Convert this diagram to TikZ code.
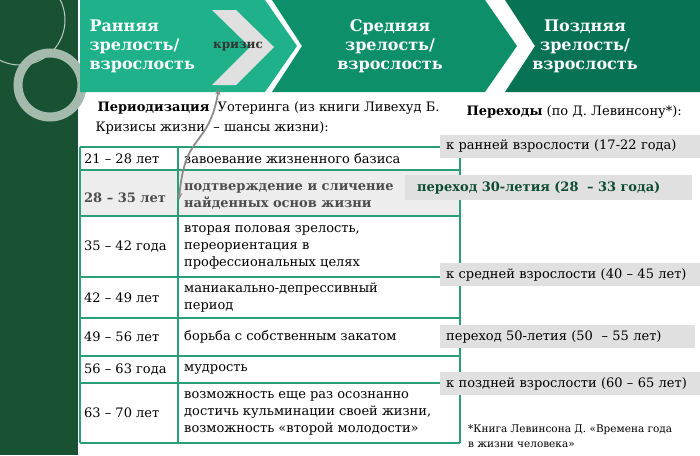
\documentclass[tikz,border=0pt]{standalone}
\usepackage{fontspec}
\setmainfont{DejaVu Serif}
\usetikzlibrary{arrows.meta,positioning}
\definecolor{MarbleClr}{rgb}{0.10,0.32,0.20}
\definecolor{ChevAClr}{rgb}{0.12,0.70,0.54}
\definecolor{ChevBClr}{rgb}{0.05,0.56,0.41}
\definecolor{ChevCClr}{rgb}{0.03,0.45,0.33}
\definecolor{GridClr}{rgb}{0.16,0.62,0.47}
\definecolor{BoxClr}{rgb}{0.88,0.88,0.88}
\definecolor{DarkGreen}{rgb}{0.05,0.30,0.20}
\tikzset{
  cell/.style={anchor=west,font=\fontsize{13}{17}\selectfont,align=left,inner sep=0pt},
  stage/.style={text=white,font=\bfseries\fontsize{16}{19}\selectfont,align=left},
  trans/.style={fill=BoxClr,anchor=west,minimum height=23pt,inner xsep=6pt,align=left,font=\fontsize{13}{15}\selectfont},
}
\begin{document}
\begin{tikzpicture}[x=1pt,y=-1pt]
\useasboundingbox (0,0) rectangle (700,455);
\fill[MarbleClr] (0,0) rectangle (78,455);
\draw[white!70!MarbleClr,line width=1pt] (20,20) circle (45);
\draw[white!60!MarbleClr,line width=9pt] (50,85) circle (32);

% chevrons
\fill[ChevCClr] (505,0) -- (700,0) -- (700,92) -- (505,92) -- (535,46) -- cycle;
\fill[ChevBClr] (272,0) -- (485,0) -- (517,46) -- (485,92) -- (272,92) -- (302,46) -- cycle;
\fill[ChevAClr] (80,0) -- (265,0) -- (297,46) -- (265,92) -- (80,92) -- cycle;
\fill[BoxClr] (212,10) -- (236,10) -- (274,47) -- (236,85) -- (212,85) -- (250,47) -- cycle;
\node[stage,anchor=west] (early) at (86,46) {Ранняя\\зрелость/\\взрослость};
\node[font=\bfseries\fontsize{12}{14}\selectfont,text=black!80] (crisis) at (238,47) {кризис};
\node[stage,align=center] (middle) at (390,46) {Средняя\\зрелость/\\взрослость};
\node[stage,align=center] (late) at (585,46) {Поздняя\\зрелость/\\взрослость};

% heading
\node[anchor=west,font=\fontsize{13}{15}\selectfont] (head) at (94,108) {\textbf{Периодизация}\ \ Уотеринга (из книги Ливехуд Б.};
\node[anchor=west,font=\fontsize{13}{15}\selectfont] (head2) at (92,128) {Кризисы жизни\ \ – шансы жизни):};
\node[anchor=west,font=\fontsize{13}{15}\selectfont] (trhead) at (463,112) {\textbf{Переходы} (по Д. Левинсону*):};

% table
\fill[black!7] (80,170) rectangle (460,216);
\foreach \y in {147,170,216,277,318,356,383,443}
  \draw[GridClr,line width=1.6pt] (80,\y) -- (460,\y);
\foreach \x in {80,178,460}
  \draw[GridClr,line width=1.6pt] (\x,147) -- (\x,443);

\foreach \y/\age/\txt in {
  158.5/21 – 28 лет/завоевание жизненного базиса,
  247/35 – 42 года/{вторая половая зрелость,\\переориентация в\\профессиональных целях},
  297.5/42 – 49 лет/{маниакально-депрессивный\\период},
  337/49 – 56 лет/борьба с собственным закатом,
  369.5/56 – 63 года/мудрость,
  413/63 – 70 лет/{возможность еще раз осознанно\\достичь кульминации своей жизни,\\возможность «второй молодости»}}
{
  \node[cell] at (84,\y) {\age};
  \node[cell] at (184,\y) {\txt};
}
\node[cell,font=\bfseries\fontsize{13}{17}\selectfont,text=black!70] (age2) at (84,198) {28 – 35 лет};
\node[cell,font=\bfseries\fontsize{13}{17}\selectfont,text=black!70] (txt2) at (184,196) {подтверждение и сличение\\найденных основ жизни};

% transitions
\node[trans,text width=248pt] (t1) at (440,146) {к ранней взрослости (17-22 года)};
\node[trans,text width=275pt,font=\bfseries\fontsize{13}{15}\selectfont,text=DarkGreen,minimum height=25pt] (t2) at (405,187.5) {\hspace*{6pt}переход 30-летия (28 \ – 33 года)};
\node[trans,text width=248pt] (t3) at (440,274.5) {к средней взрослости (40 – 45 лет)};
\node[trans,text width=243pt] (t4) at (440,336.5) {переход 50-летия (50 \ – 55 лет)};
\node[trans,text width=248pt] (t5) at (440,383.5) {к поздней взрослости (60 – 65 лет)};
\node[anchor=north west,align=left,font=\fontsize{10.5}{15}\selectfont,inner sep=0pt] (note) at (468,424) {*Книга Левинсона Д. «Времена года\\в жизни человека»};

% crisis arrow
\coordinate (ctip) at (219,88);
\coordinate (cend) at (179,200);
\draw[black!45,line width=1.8pt,{Stealth[length=7pt]}-{Stealth[length=7pt]}] (ctip) .. controls (208,150) and (185,130) .. (cend);
\end{tikzpicture}
\end{document}
